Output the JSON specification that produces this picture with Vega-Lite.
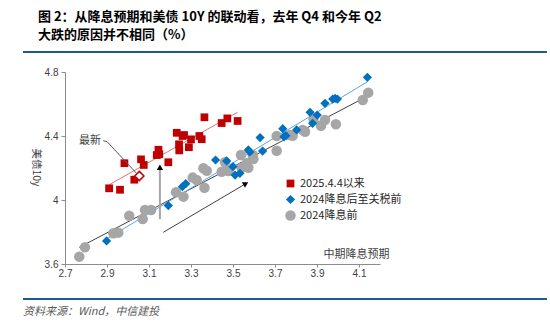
{
  "$schema": "https://vega.github.io/schema/vega-lite/v6.json",
  "width": 315,
  "height": 192,
  "autosize": {"type": "none"},
  "padding": {"left": 65, "top": 72, "right": 170, "bottom": 61},
  "background": "white",
  "config": {
    "view": {"stroke": null},
    "font": "Liberation Sans",
    "axis": {"grid": false, "domainColor": "#8C8C8C", "tickColor": "#8C8C8C", "labelColor": "#404040", "labelFontSize": 10, "labelFont": "Liberation Sans", "labelOverlap": false, "labelFlush": false}
  },
  "title": {
    "text": ["图 2：从降息预期和美债 10Y 的联动看，去年 Q4 和今年 Q2", "大跌的原因并不相同（%）"],
    "anchor": "start", "frame": "group", "dx": -27, "offset": 9,
    "font": "Noto Sans CJK SC", "fontSize": 13, "fontWeight": "bold", "color": "#000000", "lineHeight": 18
  },
  "datasets": {
    "pts": [
      {"x": 2.768, "y": 3.646, "series": "2024降息前"},
      {"x": 2.795, "y": 3.704, "series": "2024降息前"},
      {"x": 2.93, "y": 3.792, "series": "2024降息前"},
      {"x": 2.954, "y": 3.796, "series": "2024降息前"},
      {"x": 3.006, "y": 3.902, "series": "2024降息前"},
      {"x": 3.07, "y": 3.881, "series": "2024降息前"},
      {"x": 3.081, "y": 3.938, "series": "2024降息前"},
      {"x": 3.11, "y": 3.938, "series": "2024降息前"},
      {"x": 3.229, "y": 4.048, "series": "2024降息前"},
      {"x": 3.264, "y": 4.021, "series": "2024降息前"},
      {"x": 3.308, "y": 4.14, "series": "2024降息前"},
      {"x": 3.327, "y": 4.125, "series": "2024降息前"},
      {"x": 3.359, "y": 4.198, "series": "2024降息前"},
      {"x": 3.375, "y": 4.183, "series": "2024降息前"},
      {"x": 3.364, "y": 4.077, "series": "2024降息前"},
      {"x": 3.446, "y": 4.177, "series": "2024降息前"},
      {"x": 3.462, "y": 4.236, "series": "2024降息前"},
      {"x": 3.478, "y": 4.181, "series": "2024降息前"},
      {"x": 3.538, "y": 4.281, "series": "2024降息前"},
      {"x": 3.541, "y": 4.202, "series": "2024降息前"},
      {"x": 3.565, "y": 4.229, "series": "2024降息前"},
      {"x": 3.573, "y": 4.202, "series": "2024降息前"},
      {"x": 3.594, "y": 4.281, "series": "2024降息前"},
      {"x": 3.597, "y": 4.256, "series": "2024降息前"},
      {"x": 3.708, "y": 4.308, "series": "2024降息前"},
      {"x": 3.708, "y": 4.4, "series": "2024降息前"},
      {"x": 3.771, "y": 4.406, "series": "2024降息前"},
      {"x": 3.784, "y": 4.402, "series": "2024降息前"},
      {"x": 3.832, "y": 4.438, "series": "2024降息前"},
      {"x": 3.843, "y": 4.427, "series": "2024降息前"},
      {"x": 3.883, "y": 4.506, "series": "2024降息前"},
      {"x": 3.919, "y": 4.464, "series": "2024降息前"},
      {"x": 3.938, "y": 4.5, "series": "2024降息前"},
      {"x": 3.99, "y": 4.473, "series": "2024降息前"},
      {"x": 4.118, "y": 4.625, "series": "2024降息前"},
      {"x": 4.144, "y": 4.671, "series": "2024降息前"},
      {"x": 2.898, "y": 3.744, "series": "2024降息后至关税前"},
      {"x": 3.192, "y": 3.965, "series": "2024降息后至关税前"},
      {"x": 3.259, "y": 4.083, "series": "2024降息后至关税前"},
      {"x": 3.275, "y": 4.102, "series": "2024降息后至关税前"},
      {"x": 3.417, "y": 4.25, "series": "2024降息后至关税前"},
      {"x": 3.47, "y": 4.244, "series": "2024降息后至关税前"},
      {"x": 3.5, "y": 4.208, "series": "2024降息后至关税前"},
      {"x": 3.51, "y": 4.156, "series": "2024降息后至关税前"},
      {"x": 3.533, "y": 4.167, "series": "2024降息后至关税前"},
      {"x": 3.573, "y": 4.313, "series": "2024降息后至关税前"},
      {"x": 3.58, "y": 4.3, "series": "2024降息后至关税前"},
      {"x": 3.629, "y": 4.39, "series": "2024降息后至关税前"},
      {"x": 3.641, "y": 4.306, "series": "2024降息后至关税前"},
      {"x": 3.737, "y": 4.446, "series": "2024降息后至关税前"},
      {"x": 3.743, "y": 4.396, "series": "2024降息后至关税前"},
      {"x": 3.752, "y": 4.402, "series": "2024降息后至关税前"},
      {"x": 3.803, "y": 4.438, "series": "2024降息后至关税前"},
      {"x": 3.867, "y": 4.548, "series": "2024降息后至关税前"},
      {"x": 3.879, "y": 4.479, "series": "2024降息后至关税前"},
      {"x": 3.901, "y": 4.531, "series": "2024降息后至关税前"},
      {"x": 3.938, "y": 4.604, "series": "2024降息后至关税前"},
      {"x": 3.975, "y": 4.631, "series": "2024降息后至关税前"},
      {"x": 3.986, "y": 4.635, "series": "2024降息后至关税前"},
      {"x": 3.997, "y": 4.631, "series": "2024降息后至关税前"},
      {"x": 4.14, "y": 4.767, "series": "2024降息后至关税前"},
      {"x": 2.91, "y": 4.073, "series": "2025.4.4以来"},
      {"x": 2.962, "y": 4.064, "series": "2025.4.4以来"},
      {"x": 2.983, "y": 4.23, "series": "2025.4.4以来"},
      {"x": 3.03, "y": 4.127, "series": "2025.4.4以来"},
      {"x": 3.062, "y": 4.254, "series": "2025.4.4以来"},
      {"x": 3.075, "y": 4.219, "series": "2025.4.4以来"},
      {"x": 3.137, "y": 4.281, "series": "2025.4.4以来"},
      {"x": 3.145, "y": 4.314, "series": "2025.4.4以来"},
      {"x": 3.149, "y": 4.286, "series": "2025.4.4以来"},
      {"x": 3.192, "y": 4.236, "series": "2025.4.4以来"},
      {"x": 3.232, "y": 4.42, "series": "2025.4.4以来"},
      {"x": 3.243, "y": 4.348, "series": "2025.4.4以来"},
      {"x": 3.244, "y": 4.31, "series": "2025.4.4以来"},
      {"x": 3.26, "y": 4.4, "series": "2025.4.4以来"},
      {"x": 3.267, "y": 4.406, "series": "2025.4.4以来"},
      {"x": 3.29, "y": 4.33, "series": "2025.4.4以来"},
      {"x": 3.3, "y": 4.379, "series": "2025.4.4以来"},
      {"x": 3.34, "y": 4.4, "series": "2025.4.4以来"},
      {"x": 3.351, "y": 4.38, "series": "2025.4.4以来"},
      {"x": 3.364, "y": 4.517, "series": "2025.4.4以来"},
      {"x": 3.446, "y": 4.481, "series": "2025.4.4以来"},
      {"x": 3.473, "y": 4.51, "series": "2025.4.4以来"},
      {"x": 3.522, "y": 4.494, "series": "2025.4.4以来"},
      {"x": 3.054, "y": 4.15, "series": "2025.4.4以来", "latest": true}
    ],
    "leader": [
      {"x": 2.882, "y": 4.371, "k": 1},
      {"x": 2.901, "y": 4.364, "k": 2},
      {"x": 3.044, "y": 4.162, "k": 3}
    ],
    "arrows": [
      {"name": "上行", "x": 3.152, "y": 3.881, "x2": 3.152, "y2": 4.2, "hx": 3.152, "hy": 4.205},
      {"name": "斜向", "x": 3.168, "y": 3.798, "x2": 3.561, "y2": 4.102, "hx": 3.561, "hy": 4.102}
    ]
  },
  "layer": [
    {
      "data": {"values": [{}]},
      "mark": {"type": "text", "align": "left", "baseline": "middle", "fontStyle": "italic", "fontSize": 11, "color": "#595959", "font": "Noto Sans CJK SC"},
      "encoding": {"x": {"datum": 2.5, "type": "quantitative", "scale": {"domain": [2.7, 4.2], "nice": false, "zero": false}}, "y": {"datum": 3.3, "type": "quantitative", "scale": {"domain": [3.6, 4.8], "nice": false, "zero": false}}, "text": {"value": "资料来源：Wind，中信建投"}}
    },
    {
      "data": {"name": "pts"},
      "transform": [{"filter": "datum.series === '2024降息前'"}, {"regression": "y", "on": "x"}],
      "mark": {"type": "line", "strokeWidth": 1, "color": "#404040"},
      "encoding": {
        "x": {"field": "x", "type": "quantitative",
          "axis": {"values": [2.7, 2.8, 2.9, 3.0, 3.1, 3.2, 3.3, 3.4, 3.5, 3.6, 3.7, 3.8, 3.9, 4.0, 4.1, 4.2], "format": ".1~f", "tickSize": 3, "labelPadding": 1,
            "title": "中期降息预期", "titleX": 324, "titleY": -10, "titleAlign": "right", "titleBaseline": "middle", "titleFont": "Noto Sans CJK SC", "titleFontSize": 11, "titleFontWeight": "normal", "titleColor": "#404040"}},
        "y": {"field": "y", "type": "quantitative",
          "axis": {"values": [3.6, 3.8, 4.0, 4.2, 4.4, 4.6, 4.8], "format": ".1~f", "tickSize": 4, "labelPadding": 3,
            "title": "美债10y", "titleAngle": 90, "titleX": -30, "titleY": 95, "titleAlign": "center", "titleBaseline": "middle", "titleFont": "Noto Sans CJK SC", "titleFontSize": 10.5, "titleFontWeight": "normal", "titleColor": "#404040"}}
      }
    },
    {
      "data": {"name": "pts"},
      "transform": [{"filter": "datum.series === '2024降息后至关税前'"}, {"regression": "y", "on": "x"}],
      "mark": {"type": "line", "strokeWidth": 1, "color": "#5BA3E3"},
      "encoding": {"x": {"field": "x", "type": "quantitative"}, "y": {"field": "y", "type": "quantitative"}}
    },
    {
      "data": {"name": "pts"},
      "transform": [{"filter": "datum.series === '2025.4.4以来'"}, {"regression": "y", "on": "x"}],
      "mark": {"type": "line", "strokeWidth": 1, "color": "#EE6E73"},
      "encoding": {"x": {"field": "x", "type": "quantitative"}, "y": {"field": "y", "type": "quantitative"}}
    },
    {
      "data": {"name": "pts"},
      "transform": [{"filter": "!datum.latest"}],
      "mark": {"type": "point", "filled": true, "opacity": 1, "strokeWidth": 0},
      "encoding": {
        "x": {"field": "x", "type": "quantitative"},
        "y": {"field": "y", "type": "quantitative"},
        "color": {"field": "series", "type": "nominal",
          "scale": {"domain": ["2025.4.4以来", "2024降息后至关税前", "2024降息前"], "range": ["#C00000", "#0070C0", "#A6A6A6"]},
          "legend": {"title": null, "orient": "none", "legendX": 220, "legendY": 106, "labelFontSize": 11, "labelFont": "Noto Sans CJK SC", "labelColor": "#262626", "rowPadding": 4, "symbolStrokeWidth": 0}},
        "shape": {"field": "series", "type": "nominal",
          "scale": {"domain": ["2025.4.4以来", "2024降息后至关税前", "2024降息前"], "range": ["square", "diamond", "circle"]}},
        "size": {"field": "series", "type": "nominal",
          "scale": {"domain": ["2025.4.4以来", "2024降息后至关税前", "2024降息前"], "range": [60, 110, 20]}}
      }
    },
    {
      "data": {"name": "pts"},
      "transform": [{"filter": "datum.latest"}],
      "mark": {"type": "point", "shape": "diamond", "size": 85, "fill": "white", "stroke": "#C00000", "strokeWidth": 1.5, "filled": false, "opacity": 1},
      "encoding": {"x": {"field": "x", "type": "quantitative"}, "y": {"field": "y", "type": "quantitative"}}
    },
    {
      "data": {"name": "leader"},
      "mark": {"type": "line", "color": "#595959", "strokeWidth": 1},
      "encoding": {"x": {"field": "x", "type": "quantitative"}, "y": {"field": "y", "type": "quantitative"}, "order": {"field": "k"}}
    },
    {
      "data": {"values": [{}]},
      "mark": {"type": "text", "align": "center", "baseline": "middle", "fontSize": 11, "color": "#404040", "font": "Noto Sans CJK SC"},
      "encoding": {"x": {"datum": 2.819, "type": "quantitative"}, "y": {"datum": 4.369, "type": "quantitative"}, "text": {"value": "最新"}}
    },
    {
      "data": {"name": "arrows"},
      "mark": {"type": "rule"},
      "encoding": {
        "x": {"field": "x", "type": "quantitative"}, "y": {"field": "y", "type": "quantitative"},
        "x2": {"field": "x2"}, "y2": {"field": "y2"},
        "color": {"condition": {"test": "datum.name === '上行'", "value": "#A6A6A6"}, "value": "#404040"},
        "strokeWidth": {"condition": {"test": "datum.name === '上行'", "value": 2}, "value": 1}
      }
    },
    {
      "data": {"name": "arrows"},
      "mark": {"type": "point", "shape": "triangle-up", "filled": true, "size": 40, "color": "#000000", "opacity": 1},
      "encoding": {
        "x": {"field": "hx", "type": "quantitative"}, "y": {"field": "hy", "type": "quantitative"},
        "angle": {"condition": {"test": "datum.name === '上行'", "value": 0}, "value": 60}
      }
    },
    {
      "data": {"values": [{}]},
      "mark": {"type": "rule", "stroke": "#1F5A8C", "strokeWidth": 2, "clip": false},
      "encoding": {"x": {"datum": 2.5}, "x2": {"datum": 4.995}, "y": {"datum": 4.925}}
    },
    {
      "data": {"values": [{}]},
      "mark": {"type": "rule", "stroke": "#1F5A8C", "strokeWidth": 2, "clip": false},
      "encoding": {"x": {"datum": 2.5}, "x2": {"datum": 4.995}, "y": {"datum": 3.381}}
    }
  ]
}
